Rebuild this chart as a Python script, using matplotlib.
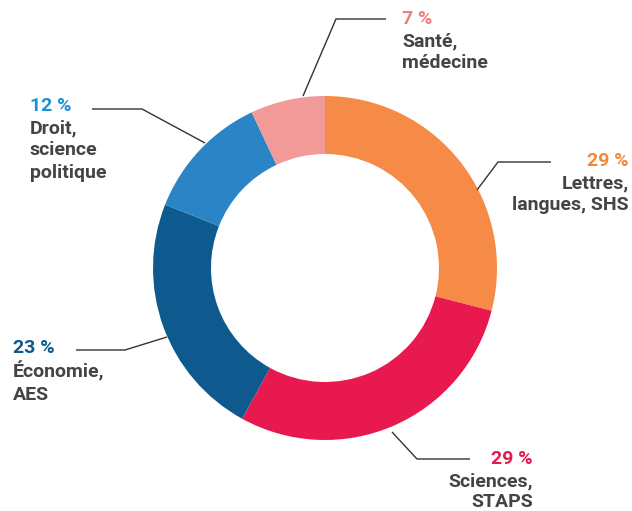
import matplotlib
matplotlib.use("Agg")
import matplotlib.pyplot as plt

categories = ["Lettres,\nlangues, SHS", "Sciences,\nSTAPS", "Économie,\nAES", "Droit,\nscience\npolitique", "Santé,\nmédecine"]
values = [29, 29, 23, 12, 7]
pct_labels = ["29 %", "29 %", "23 %", "12 %", "7 %"]
wedge_colors = ["#F58B47", "#E8194F", "#0E5A8F", "#2A84C6", "#F19A97"]
pct_colors = ["#F5873E", "#E8194F", "#0E5A8F", "#1E90D8", "#F07E7E"]

W, H = 632, 511
fig = plt.figure(figsize=(W / 100, H / 100), dpi=100)
ax = fig.add_axes([0, 0, 1, 1])
ax.set_xlim(0, W)
ax.set_ylim(0, H)
ax.set_aspect("equal")
ax.axis("off")

cx, cy, R = 325, H - 268, 172
ax.pie(values, colors=wedge_colors, startangle=90, counterclock=False,
       center=(cx, cy), radius=R, frame=True,
       wedgeprops=dict(width=58, linewidth=0))
ax.set_xlim(0, W)
ax.set_ylim(0, H)
ax.axis("off")

leaders = [
    [(477, 190), (498, 162), (551, 162)],
    [(392, 432), (417, 459), (470, 459)],
    [(167, 337), (125, 350), (76, 350)],
    [(205, 143), (142, 109), (92, 109)],
    [(303, 96), (336, 19), (386, 19)],
]
anchors = [
    (629, 161, "right"),
    (533, 459, "right"),
    (13, 348, "left"),
    (30, 106, "left"),
    (402, 19, "left"),
]
spacings = [1.32, 1.22, 1.32, 1.32, 1.32]
fp = ["Roboto", "DejaVu Sans"]
for i in range(len(values)):
    xs = [p[0] for p in leaders[i]]
    ys = [H - p[1] for p in leaders[i]]
    ax.plot(xs, ys, color="#333333", lw=1.0, solid_capstyle="butt")
    x, y, ha = anchors[i]
    ax.text(x, H - y, pct_labels[i], ha=ha, va="center", fontsize=14,
            fontweight="bold", color=pct_colors[i], family=fp)
    ax.text(x, H - y - 13, categories[i], ha=ha, va="top", fontsize=14,
            fontweight="semibold", color="#444444", family=fp,
            linespacing=spacings[i], multialignment=ha)

fig.savefig("out.png", dpi=100)
